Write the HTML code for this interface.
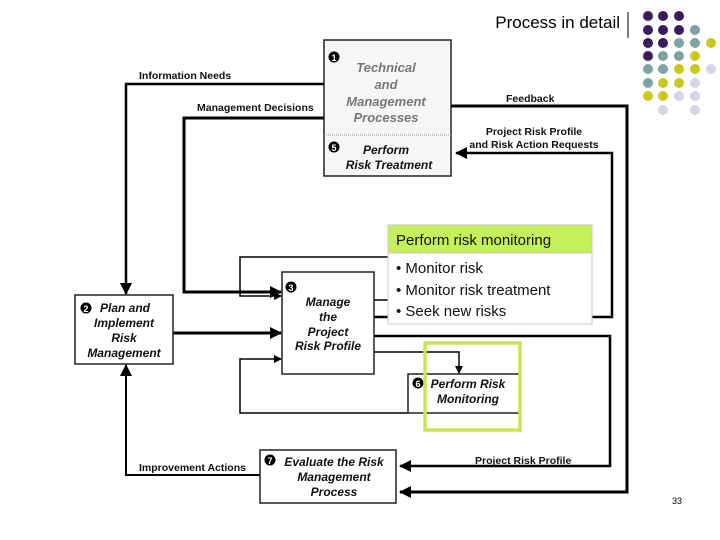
<!DOCTYPE html>
<html><head><meta charset="utf-8"><style>
html,body{margin:0;padding:0;background:#fff;width:720px;height:540px;overflow:hidden}
svg{display:block}
.d{font-family:"Liberation Sans",sans-serif;font-weight:bold;font-size:10.5px;fill:#111}
.n{font-family:"Liberation Sans",sans-serif;font-weight:bold;font-style:italic;font-size:12px;fill:#111}
.g{font-family:"Liberation Sans",sans-serif;font-weight:bold;font-style:italic;font-size:13px;fill:#777}
.c{font-family:"Liberation Sans",sans-serif;font-size:15px;fill:#111}
</style></head><body>
<svg width="720" height="540" viewBox="0 0 720 540" xmlns="http://www.w3.org/2000/svg">
<defs>
<marker id="a" markerWidth="8" markerHeight="8" refX="7" refY="4" orient="auto" markerUnits="userSpaceOnUse"><path d="M0,0 L8,4 L0,8z" fill="#000"/></marker>
<marker id="A" markerWidth="12" markerHeight="12" refX="11" refY="6" orient="auto" markerUnits="userSpaceOnUse"><path d="M0,0 L12,6 L0,12z" fill="#000"/></marker>
</defs>
<!-- title -->
<text x="620" y="28" text-anchor="end" font-family="Liberation Sans,sans-serif" font-size="17" fill="#000">Process in detail</text>
<line x1="628" y1="12" x2="628" y2="38" stroke="#000" stroke-width="1"/>
<!-- dots -->
<g>
<circle cx="648" cy="16" r="5" fill="#3d1a5c"/><circle cx="663" cy="16" r="5" fill="#3d1a5c"/><circle cx="679" cy="16" r="5" fill="#3d1a5c"/>
<circle cx="648" cy="30" r="5" fill="#3d1a5c"/><circle cx="663" cy="30" r="5" fill="#3d1a5c"/><circle cx="679" cy="30" r="5" fill="#3d1a5c"/><circle cx="695" cy="30" r="5" fill="#7fa3a3"/>
<circle cx="648" cy="43" r="5" fill="#3d1a5c"/><circle cx="663" cy="43" r="5" fill="#3d1a5c"/><circle cx="679" cy="43" r="5" fill="#7fa3a3"/><circle cx="695" cy="43" r="5" fill="#7fa3a3"/><circle cx="711" cy="43" r="5" fill="#c8c81e"/>
<circle cx="648" cy="56" r="5" fill="#3d1a5c"/><circle cx="663" cy="56" r="5" fill="#7fa3a3"/><circle cx="679" cy="56" r="5" fill="#7fa3a3"/><circle cx="695" cy="56" r="5" fill="#c8c81e"/>
<circle cx="648" cy="69" r="5" fill="#7fa3a3"/><circle cx="663" cy="69" r="5" fill="#7fa3a3"/><circle cx="679" cy="69" r="5" fill="#c8c81e"/><circle cx="695" cy="69" r="5" fill="#c8c81e"/><circle cx="711" cy="69" r="5" fill="#d5d5e5"/>
<circle cx="648" cy="83" r="5" fill="#7fa3a3"/><circle cx="663" cy="83" r="5" fill="#c8c81e"/><circle cx="679" cy="83" r="5" fill="#c8c81e"/><circle cx="695" cy="83" r="5" fill="#d5d5e5"/>
<circle cx="648" cy="96" r="5" fill="#c8c81e"/><circle cx="663" cy="96" r="5" fill="#c8c81e"/><circle cx="679" cy="96" r="5" fill="#d5d5e5"/><circle cx="695" cy="96" r="5" fill="#d5d5e5"/>
<circle cx="663" cy="110" r="5" fill="#d5d5e5"/><circle cx="695" cy="110" r="5" fill="#d5d5e5"/>
</g>
<!-- connectors -->
<g fill="none" stroke="#000">
<polyline points="324,84 126,84 126,294" stroke-width="2.5" marker-end="url(#A)"/>
<polyline points="324,118 184,118 184,292 281,292" stroke-width="3" marker-end="url(#A)"/>
<line x1="173" y1="333" x2="281" y2="333" stroke-width="3" marker-end="url(#A)"/>
<polyline points="260,475 126,475 126,365" stroke-width="2" marker-end="url(#A)"/>
<polyline points="420,257 240,257 240,296 281,296" stroke-width="1.5" marker-end="url(#a)"/>
<polyline points="408,413 240,413 240,359 281,359" stroke-width="1.5" marker-end="url(#a)"/>
<polyline points="374,352 459,352 459,373" stroke-width="1.5" marker-end="url(#a)"/>
<polyline points="374,336 610,336 610,466 400,466" stroke-width="2.5" marker-end="url(#A)"/>
<polyline points="451,106 627,106 627,492 400,492" stroke-width="3" marker-end="url(#A)"/>
<line x1="374" y1="300" x2="400" y2="300" stroke-width="1.5"/>
<polyline points="374,317 612,317 612,153 456,153" stroke-width="2.5" marker-end="url(#A)"/>
</g>
<!-- labels -->
<text class="d" x="139" y="79">Information Needs</text>
<text class="d" x="197" y="111">Management Decisions</text>
<text class="d" x="506" y="102">Feedback</text>
<text class="d" x="534" y="135" text-anchor="middle">Project Risk Profile</text>
<text class="d" x="534" y="148" text-anchor="middle">and Risk Action Requests</text>
<text class="d" x="475" y="464">Project Risk Profile</text>
<text class="d" x="139" y="471" font-weight="normal">Improvement Actions</text>
<!-- box1 -->
<rect x="324" y="40" width="127" height="136" fill="#f6f6f6" stroke="#222" stroke-width="1.5"/>
<line x1="324" y1="135" x2="451" y2="135" stroke="#999" stroke-dasharray="1,1"/>
<text class="g" x="386" y="72" text-anchor="middle">Technical</text>
<text class="g" x="386" y="89" text-anchor="middle">and</text>
<text class="g" x="386" y="106" text-anchor="middle">Management</text>
<text class="g" x="386" y="122" text-anchor="middle">Processes</text>
<text class="n" x="386" y="154" text-anchor="middle">Perform</text>
<text class="n" x="389" y="169" text-anchor="middle">Risk Treatment</text>
<circle cx="334" cy="57" r="5.5" fill="#000"/><text x="334" y="61" text-anchor="middle" font-family="Liberation Sans,sans-serif" font-weight="bold" font-size="9" fill="#fff">1</text>
<circle cx="334" cy="147" r="5.5" fill="#000"/><text x="334" y="151" text-anchor="middle" font-family="Liberation Sans,sans-serif" font-weight="bold" font-size="9" fill="#fff">5</text>
<!-- box2 -->
<rect x="75" y="295" width="98" height="69" fill="#fff" stroke="#222" stroke-width="1.5"/>
<circle cx="86" cy="308" r="5.5" fill="#000"/><text x="86" y="312" text-anchor="middle" font-family="Liberation Sans,sans-serif" font-weight="bold" font-size="9" fill="#fff">2</text>
<text class="n" x="125" y="312" text-anchor="middle">Plan and</text>
<text class="n" x="124" y="327" text-anchor="middle">Implement</text>
<text class="n" x="124" y="342" text-anchor="middle">Risk</text>
<text class="n" x="124" y="357" text-anchor="middle">Management</text>
<!-- box3 -->
<rect x="282" y="272" width="92" height="102" fill="#fff" stroke="#222" stroke-width="1.5"/>
<circle cx="291" cy="287" r="5.5" fill="#000"/><text x="291" y="291" text-anchor="middle" font-family="Liberation Sans,sans-serif" font-weight="bold" font-size="9" fill="#fff">3</text>
<text class="n" x="328" y="306" text-anchor="middle">Manage</text>
<text class="n" x="328" y="321" text-anchor="middle">the</text>
<text class="n" x="328" y="336" text-anchor="middle">Project</text>
<text class="n" x="328" y="350" text-anchor="middle">Risk Profile</text>
<!-- box6 -->
<rect x="408" y="374" width="112" height="39" fill="#fff" stroke="none"/>
<polyline points="520,374 408,374 408,413 520,413" fill="none" stroke="#222" stroke-width="1.5"/>
<circle cx="418" cy="383" r="5.5" fill="#000"/><text x="418" y="387" text-anchor="middle" font-family="Liberation Sans,sans-serif" font-weight="bold" font-size="9" fill="#fff">6</text>
<text class="n" x="468" y="388" text-anchor="middle">Perform Risk</text>
<text class="n" x="468" y="403" text-anchor="middle">Monitoring</text>
<rect x="425" y="343" width="95" height="87" fill="none" stroke="#c8e650" stroke-width="3.5"/>
<!-- box7 -->
<rect x="260" y="450" width="136" height="53" fill="#fff" stroke="#222" stroke-width="1.5"/>
<circle cx="270" cy="460" r="5.5" fill="#000"/><text x="270" y="464" text-anchor="middle" font-family="Liberation Sans,sans-serif" font-weight="bold" font-size="9" fill="#fff">7</text>
<text class="n" x="334" y="466" text-anchor="middle">Evaluate the Risk</text>
<text class="n" x="334" y="481" text-anchor="middle">Management</text>
<text class="n" x="334" y="496" text-anchor="middle">Process</text>
<!-- callout -->
<rect x="388" y="225" width="204" height="99" fill="#fff" stroke="#c8c8c8" stroke-width="1"/>
<rect x="388" y="225" width="204" height="28" fill="#c4f05a" stroke="#c8c8c8" stroke-width="1"/>
<text class="c" x="396" y="245">Perform risk monitoring</text>
<text class="c" x="396" y="273">•  Monitor risk</text>
<text class="c" x="396" y="295">•  Monitor risk treatment</text>
<text class="c" x="396" y="316">•  Seek new risks</text>
<text x="672" y="504" font-family="Liberation Sans,sans-serif" font-size="9" fill="#000">33</text>
</svg>
</body></html>
